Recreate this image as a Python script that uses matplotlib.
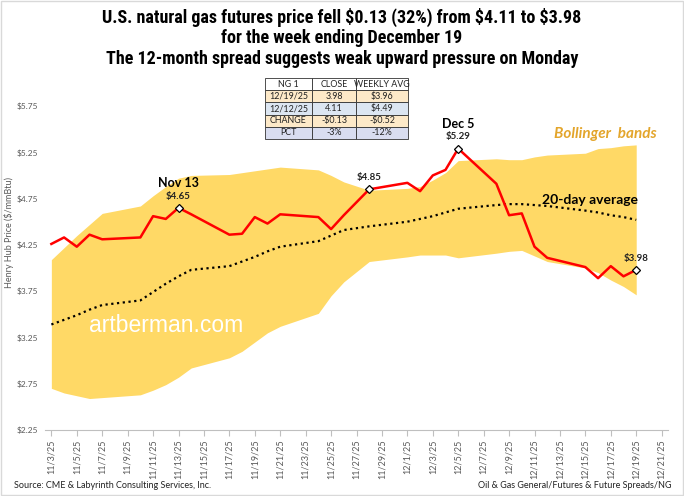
import numpy as np
import pandas as pd
import matplotlib
matplotlib.use("Agg")
import matplotlib.pyplot as plt
import matplotlib.dates as mdates
from matplotlib.patches import Rectangle

# 数据
dates = ["2025-11-03", "2025-11-04", "2025-11-05", "2025-11-06", "2025-11-07",
         "2025-11-10", "2025-11-11", "2025-11-12", "2025-11-13", "2025-11-14",
         "2025-11-17", "2025-11-18", "2025-11-19", "2025-11-20", "2025-11-21",
         "2025-11-24", "2025-11-25", "2025-11-26", "2025-11-28",
         "2025-12-01", "2025-12-02", "2025-12-03", "2025-12-04", "2025-12-05",
         "2025-12-08", "2025-12-09", "2025-12-10", "2025-12-11", "2025-12-12",
         "2025-12-15", "2025-12-16", "2025-12-17", "2025-12-18", "2025-12-19"]
close = [4.26, 4.33, 4.23, 4.36, 4.31,
         4.33, 4.56, 4.53, 4.65, 4.58,
         4.36, 4.37, 4.55, 4.48, 4.58,
         4.55, 4.42, 4.57, 4.85,
         4.92, 4.83, 5.00, 5.06, 5.29,
         4.91, 4.57, 4.59, 4.23, 4.11,
         4.01, 3.89, 4.02, 3.91, 3.98]
avg_20 = [3.39, 3.44, 3.49, 3.55, 3.60,
          3.65, 3.74, 3.83, 3.91, 3.98,
          4.02, 4.07, 4.12, 4.18, 4.23,
          4.29, 4.35, 4.41, 4.45,
          4.50, 4.53, 4.56, 4.60, 4.64,
          4.68, 4.69, 4.69, 4.68, 4.67,
          4.62, 4.60, 4.57, 4.55, 4.52]
upper_band = [4.09, 4.22, 4.35, 4.47, 4.59,
              4.67, 4.78, 4.88, 4.97, 5.00,
              5.01, 5.03, 5.05, 5.07, 5.09,
              5.06, 5.00, 4.93, 4.84,
              4.86, 4.88, 4.95, 5.03, 5.16,
              5.18, 5.17, 5.17, 5.20, 5.22,
              5.24, 5.29, 5.30, 5.32, 5.33]
lower_band = [2.70, 2.65, 2.62, 2.59, 2.60,
              2.63, 2.68, 2.74, 2.82, 2.92,
              3.03, 3.10, 3.20, 3.30, 3.37,
              3.51, 3.70, 3.85, 4.07,
              4.12, 4.14, 4.14, 4.14, 4.11,
              4.16, 4.18, 4.19, 4.13, 4.07,
              4.00, 3.95, 3.87, 3.80, 3.71]

# 标注点
callouts = [("2025-11-13", 4.65, "$4.65", "Nov 13"),
            ("2025-11-28", 4.85, "$4.85", None),
            ("2025-12-05", 5.29, "$5.29", "Dec 5"),
            ("2025-12-19", 3.98, "$3.98", None)]

# 表格
table_cols = ["NG 1", "CLOSE", "WEEKLY AVG"]
table_rows = [["12/19/25", "3.98", "$3.96"],
              ["12/12/25", "4.11", "$4.49"],
              ["CHANGE", "-$0.13", "-$0.52"],
              ["PCT", "-3%", "-12%"]]

y_ticks = [2.25, 2.75, 3.25, 3.75, 4.25, 4.75, 5.25, 5.75]

title_lines = ["U.S. natural gas futures price fell $0.13 (32%) from $4.11 to $3.98",
               "for the week ending December 19",
               "The 12-month spread suggests weak upward pressure on Monday"]

plt.rcParams['font.family'] = ['Lato', 'DejaVu Sans']
gray = '#595959'

x = pd.to_datetime(dates)
fig = plt.figure(figsize=(6.84, 4.96), dpi=100)
ax = fig.add_axes([45 / 684, 1 - 430 / 496, 623 / 684, 324 / 496])

ax.fill_between(x, lower_band, upper_band, color='#FFD966', linewidth=0, zorder=1)
ax.plot(x, avg_20, color='black', linestyle=(0, (1, 1.6)), linewidth=1.6, zorder=2)
ax.plot(x, close, color='#FF0000', linewidth=1.8, zorder=3)

for d, v, lab, head in callouts:
    dd = pd.Timestamp(d)
    ax.plot([dd], [v], marker='D', markersize=4.5, markerfacecolor='white',
            markeredgecolor='black', markeredgewidth=0.9, zorder=4)
    ax.annotate(lab, (dd, v), xytext=(0, 8.5), textcoords='offset points',
                ha='center', va='center', fontsize=7, fontweight='bold', color='#222222')
    if head:
        ax.annotate(head, (dd, v), xytext=(0, 18), textcoords='offset points',
                    ha='center', va='center', fontsize=9, fontweight='bold', color='black')

# 坐标轴
start = pd.Timestamp("2025-11-03")
ax.set_xlim(start - pd.Timedelta(hours=12), start + pd.Timedelta(days=48, hours=12))
ax.set_ylim(2.25, 5.75)
ax.set_yticks(y_ticks)
ax.set_yticklabels([f"${v:.2f}" for v in y_ticks])
tick_dates = pd.date_range("2025-11-03", "2025-12-21", freq="2D")
ax.set_xticks(tick_dates)
ax.set_xticklabels([f"{d.month}/{d.day}/{d.strftime('%y')}" for d in tick_dates], rotation=90)
ax.tick_params(axis='x', labelsize=6.5, labelcolor=gray, color='#BFBFBF', length=4, pad=3)
ax.tick_params(axis='y', labelsize=6, labelcolor=gray, length=0, pad=5)
for s in ['left', 'right', 'top']:
    ax.spines[s].set_visible(False)
ax.spines['bottom'].set_color('#BFBFBF')
ax.set_facecolor('none')

fig.text(9 / 684, 1 - 232 / 496, "Henry Hub Price ($/mmBtu)", rotation=90,
         ha='center', va='center', fontsize=6.5, color=gray)

ax.text(0.194, 0.321, "artberman.com", transform=ax.transAxes, ha='center', va='center',
        fontsize=16.5, color='white', family='Liberation Sans', zorder=5)
ax.text(0.9, 0.914, "Bollinger  bands", transform=ax.transAxes, ha='center', va='center',
        fontsize=11, color='#E3A52B', fontweight='bold', fontstyle='italic')
ax.text(0.875, 0.71, "20-day average", transform=ax.transAxes, ha='center', va='center',
        fontsize=10, color='black', fontweight='bold')

# 标题
for i, line in enumerate(title_lines):
    fig.text(0.5, 1 - (17 + i * 20.8) / 496, line, ha='center', va='center',
             fontsize=13, fontweight='bold', color='black',
             family=['Liberation Sans Narrow', 'Roboto Condensed', 'Roboto', 'DejaVu Sans'])

fig.text(14 / 684, 1 - 486 / 496, "Source: CME & Labyrinth Consulting Services, Inc.",
         ha='left', va='center', fontsize=6.5, color='#222222')
fig.text(672 / 684, 1 - 486 / 496, "Oil & Gas General/Futures & Future Spreads/NG",
         ha='right', va='center', fontsize=6.5, color='#222222')

# 表格
tax = fig.add_axes([265 / 684, 1 - 139 / 496, 143 / 684, 61 / 496])
tax.axis('off')
row_colors = ['#FFFFFF', '#FDE9C8', '#DCE6F2', '#FDE9C8', '#D9DDF0']
cells = [table_cols] + table_rows
tbl = tax.table(cellText=cells, cellLoc='center', loc='center', bbox=[0, 0, 1, 1],
                colWidths=[47, 44, 52],
                cellColours=[[c] * 3 for c in row_colors])
tbl.auto_set_font_size(False)
tbl.set_fontsize(6.4)
for (r, c), cell in tbl.get_celld().items():
    cell.set_edgecolor('#333333')
    cell.set_linewidth(0.6)
    cell.get_text().set_color('#222222')

fig.patches.append(Rectangle((0.002, 0.002), 0.996, 0.996, transform=fig.transFigure,
                             fill=False, edgecolor='#D9D9D9', linewidth=1))

fig.savefig("out.png", dpi=100)
